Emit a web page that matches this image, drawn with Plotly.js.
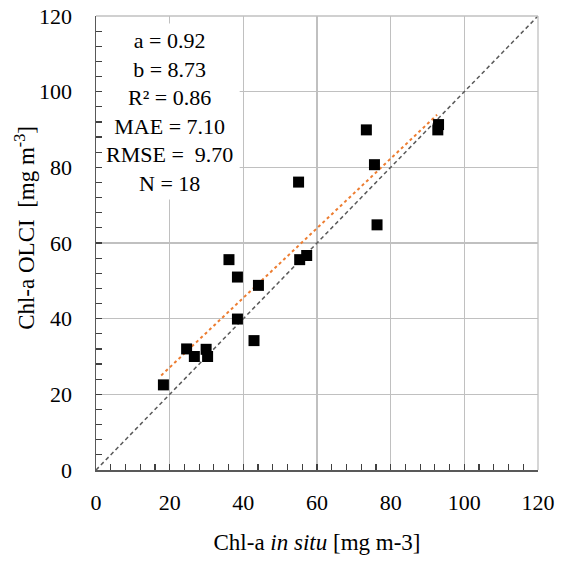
<!DOCTYPE html>
<html>
<head>
<meta charset="utf-8">
<script src="https://cdn.plot.ly/plotly-3.0.1.min.js"></script>
<style>html,body{margin:0;padding:0;background:#fff;}#chart{width:564px;height:563px;}</style>
</head>
<body>
<div id="chart"></div>
<script>
// Observations: in situ (x) vs OLCI (y), mg m-3
const inSitu = [93.0, 92.8, 73.4, 75.6, 55.0, 76.3, 55.3, 57.2, 36.1, 38.4, 44.1, 38.4, 42.9, 24.6, 26.7, 29.9, 30.3, 18.3];
const olci   = [91.3, 89.9, 89.9, 80.7, 76.1, 64.8, 55.6, 56.7, 55.6, 51.0, 48.8, 39.9, 34.2, 32.0, 30.0, 31.9, 30.0, 22.5];
// 1:1 line endpoints
const oneX = [0, 120];
const oneY = [0, 120];
// Linear fit endpoints (a = 0.92, b = 8.73)
const fitX = [17.7, 92.6];
const fitY = [25.0, 93.9];
const axisRange = [0, 120];
const majorStep = 20;
const minorStep = 4;
const statsLines = ["a = 0.92", "b = 8.73", "R\u00B2 = 0.86", "MAE = 7.10", "RMSE =  9.70", "N = 18"];
const xTitle = "Chl-a <i>in situ</i> [mg m-3]";
const yTitle = "Chl-a OLCI  [mg m<sup>-3</sup>]";

const FONT = "Liberation Serif, Times New Roman, serif";

const traces = [
  {x: oneX, y: oneY, mode: "lines", line: {color: "#595959", width: 1.5, dash: "4px,3px"}, hoverinfo: "skip"},
  {x: fitX, y: fitY, mode: "lines", line: {color: "#ED7D31", width: 2, dash: "dot"}, hoverinfo: "skip"},
  {x: inSitu, y: olci, mode: "markers", marker: {symbol: "square", size: 11, color: "#000"}}
];

const axisCommon = {
  range: axisRange,
  tickmode: "linear",
  tick0: 0,
  dtick: majorStep,
  showgrid: true,
  gridcolor: "#c0c0c0",
  gridwidth: 1.3,
  zeroline: false,
  showline: true,
  linecolor: "#595959",
  linewidth: 1.5,
  ticks: "inside",
  ticklen: 6,
  tickcolor: "#404040",
  tickwidth: 1.2,
  minor: {dtick: minorStep, ticks: "inside", ticklen: 6, tickcolor: "#404040", tickwidth: 1.2},
  tickfont: {family: FONT, size: 22, color: "#000"},
  fixedrange: true
};

const layout = {
  width: 564, height: 563,
  margin: {l: 96, r: 26, t: 16, b: 93},
  paper_bgcolor: "#fff", plot_bgcolor: "#fff",
  showlegend: false,
  xaxis: Object.assign({}, axisCommon, {
    ticklabelstandoff: 12,
    title: {text: xTitle, font: {family: FONT, size: 23, color: "#000"}, standoff: 20}
  }),
  yaxis: Object.assign({}, axisCommon, {
    ticklabelstandoff: 18
  }),
  shapes: [
    {type: "rect", xref: "x", yref: "y", x0: 0, x1: 39, y0: 71.5, y1: 118, fillcolor: "#fff", line: {width: 0}, layer: "between"},
    {type: "line", xref: "paper", yref: "paper", x0: 0, x1: 1, y0: 1, y1: 1, line: {color: "#c0c0c0", width: 1.3}},
    {type: "line", xref: "paper", yref: "paper", x0: 1, x1: 1, y0: 0, y1: 1, line: {color: "#c0c0c0", width: 1.3}}
  ],
  annotations: [
    {xref: "x", yref: "y", x: 20, y: 94.6, text: statsLines.join("<br>"), showarrow: false,
     align: "center", font: {family: FONT, size: 22, color: "#000"}},
    {xref: "paper", yref: "paper", x: -0.161, y: 0.533, xanchor: "center", yanchor: "middle",
     text: yTitle, textangle: -90, showarrow: false, font: {family: FONT, size: 23, color: "#000"}}
  ]
};

Plotly.newPlot("chart", traces, layout, {displayModeBar: false, staticPlot: true});
</script>
</body>
</html>
